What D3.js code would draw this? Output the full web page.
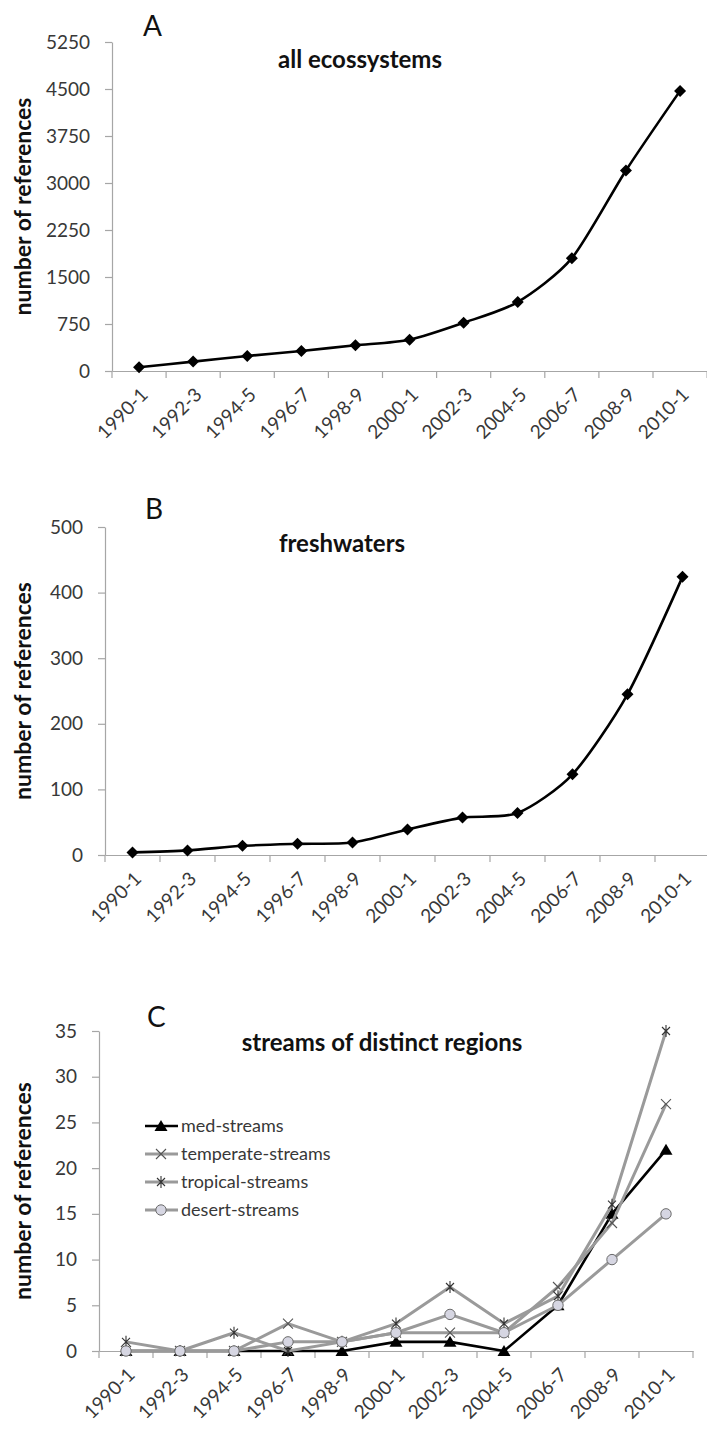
<!DOCTYPE html>
<html><head><meta charset="utf-8">
<script src="https://cdn.jsdelivr.net/npm/d3@7"></script>
<style>body{margin:0;background:#fff} text{font-family:Lato,'Open Sans',sans-serif}</style>
</head><body><svg id="c" width="707" height="1432"></svg>
<script>
const categories = ["1990-1","1992-3","1994-5","1996-7","1998-9","2000-1","2002-3","2004-5","2006-7","2008-9","2010-1"];
const allEcosystems = [60,150,240,320,410,500,770,1100,1800,3200,4470];
const freshwaters = [4,7,14,17,19,39,57,64,123,245,424];
const medStreams = [0,0,0,0,0,1,1,0,5,15,22];
const temperateStreams = [0,0,0,3,1,2,2,2,7,14,27];
const tropicalStreams = [1,0,2,0,1,3,7,3,6,16,35];
const desertStreams = [0,0,0,1,1,2,4,2,5,10,15];
const ticksA = [0,750,1500,2250,3000,3750,4500,5250];
const ticksB = [0,100,200,300,400,500];
const ticksC = [0,5,10,15,20,25,30,35];
const seriesNames = ["med-streams","temperate-streams","tropical-streams","desert-streams"];
const panelLetters = ["A","B","C"];
const panelTitles = ["all ecossystems","freshwaters","streams of distinct regions"];
const yAxisTitle = "number of references";

const svg = d3.select("#c");
const AXIS = "#a6a6a6", LABEL = "#383838";

const layout = [
  {left:112, step:54.1, top:42, bottom:371, letterX:143, letterY:36, titleX:360, titleY:68},
  {left:105, step:55, top:527, bottom:855, letterX:145, letterY:519, titleX:342, titleY:552},
  {left:99, step:54, top:1031, bottom:1351, letterX:147, letterY:1027, titleX:382, titleY:1051}
];

const markers = {
  diamond: (g, col) => g.append("path").attr("d","M0,-6L6,0L0,6L-6,0Z").attr("fill",col),
  triangle: (g, col) => g.append("path").attr("d","M0,-6L6.5,5L-6.5,5Z").attr("fill",col),
  cross: (g) => g.append("path").attr("d","M-5,-5L5,5M5,-5L-5,5").attr("stroke","#555").attr("stroke-width",1.1).attr("fill","none"),
  star: (g) => g.append("path").attr("d","M-4,-4L4,4M4,-4L-4,4M0,-6V6").attr("stroke","#333").attr("stroke-width",1.1).attr("fill","none"),
  circle: (g) => g.append("circle").attr("r",5.2).attr("fill","#d6d6e2").attr("stroke","#6a6a6a").attr("stroke-width",1)
};

function drawPanel(i, ticks, series, smooth) {
  const L = layout[i];
  const g = svg.append("g");
  const x = d3.scaleBand().domain(categories).range([L.left, L.left + L.step*categories.length]).padding(0);
  const y = d3.scaleLinear().domain([0, d3.max(ticks)]).range([L.bottom, L.top]);
  const bw = x.bandwidth();

  // y axis
  const ya = g.append("g").attr("transform",`translate(${L.left},0)`)
    .call(d3.axisLeft(y).tickValues(ticks).tickFormat(d3.format("d")).tickSize(7).tickSizeOuter(0).tickPadding(15));
  ya.select(".domain").attr("stroke",AXIS).attr("stroke-width",1.2);
  ya.selectAll(".tick line").attr("stroke",AXIS).attr("stroke-width",1.2);
  ya.selectAll(".tick text").attr("font-size",19).attr("fill",LABEL).style("font-family","Lato");

  // x axis
  const xa = g.append("g").attr("transform",`translate(0,${L.bottom})`)
    .call(d3.axisBottom(x).tickSize(0).tickSizeOuter(0));
  xa.select(".domain").attr("stroke",AXIS).attr("stroke-width",1.2);
  xa.selectAll(".tick text").attr("font-size",19).attr("fill",LABEL).style("font-family","Lato")
    .attr("text-anchor","end").attr("x",0).attr("y",0).attr("dy",0)
    .attr("transform","translate(10,25) rotate(-45)");
  const edges = categories.map(c => x(c)).concat([x.range()[1]]);
  g.append("g").selectAll("line").data(edges).join("line")
    .attr("x1",d=>d).attr("x2",d=>d).attr("y1",L.bottom).attr("y2",L.bottom+7)
    .attr("stroke",AXIS).attr("stroke-width",1.2);

  // series
  const line = d3.line().x((d,k)=>x(categories[k])+bw/2).y(d=>y(d));
  if (smooth) line.curve(d3.curveCardinal.tension(0.25));
  series.forEach(s => {
    g.append("path").datum(s.values).attr("d",line).attr("fill","none")
      .attr("stroke",s.color).attr("stroke-width",s.width).attr("stroke-linejoin","round");
    s.values.forEach((v,k) => {
      const m = g.append("g").attr("transform",`translate(${x(categories[k])+bw/2},${y(v)})`);
      markers[s.marker](m, s.mcolor);
    });
  });

  // texts
  g.append("text").attr("x",L.letterX).attr("y",L.letterY).attr("font-size",28).attr("fill","#111").text(panelLetters[i]);
  g.append("text").attr("x",L.titleX).attr("y",L.titleY).attr("text-anchor","middle").attr("font-size",24)
    .attr("font-weight","bold").attr("fill","#111").text(panelTitles[i]);
  g.append("text").attr("transform",`translate(31,${(L.top+L.bottom)/2}) rotate(-90)`).attr("text-anchor","middle")
    .attr("font-size",23).attr("font-weight","bold").attr("fill","#111").text(yAxisTitle);
  return {x, y, g};
}

drawPanel(0, ticksA, [{values:allEcosystems, color:"#000", width:2.6, marker:"diamond", mcolor:"#000"}], true);
drawPanel(1, ticksB, [{values:freshwaters, color:"#000", width:2.6, marker:"diamond", mcolor:"#000"}], true);

const cSeries = [
  {values:medStreams, color:"#000", width:2.6, marker:"triangle", mcolor:"#000"},
  {values:temperateStreams, color:"#9a9a9a", width:3, marker:"cross"},
  {values:tropicalStreams, color:"#9a9a9a", width:3, marker:"star"},
  {values:desertStreams, color:"#9a9a9a", width:3, marker:"circle"}
];
const pc = drawPanel(2, ticksC, cSeries, false);

// legend
const legY = [1126, 1154, 1182, 1210];
cSeries.forEach((s,k) => {
  const lg = pc.g.append("g").attr("transform",`translate(0,${legY[k]})`);
  lg.append("line").attr("x1",145).attr("x2",178).attr("y1",0).attr("y2",0).attr("stroke",s.color).attr("stroke-width",s.width);
  markers[s.marker](lg.append("g").attr("transform","translate(161,0)"), s.mcolor);
  lg.append("text").attr("x",181).attr("y",6).attr("font-size",18).attr("fill",LABEL).text(seriesNames[k]);
});
</script></body></html>
